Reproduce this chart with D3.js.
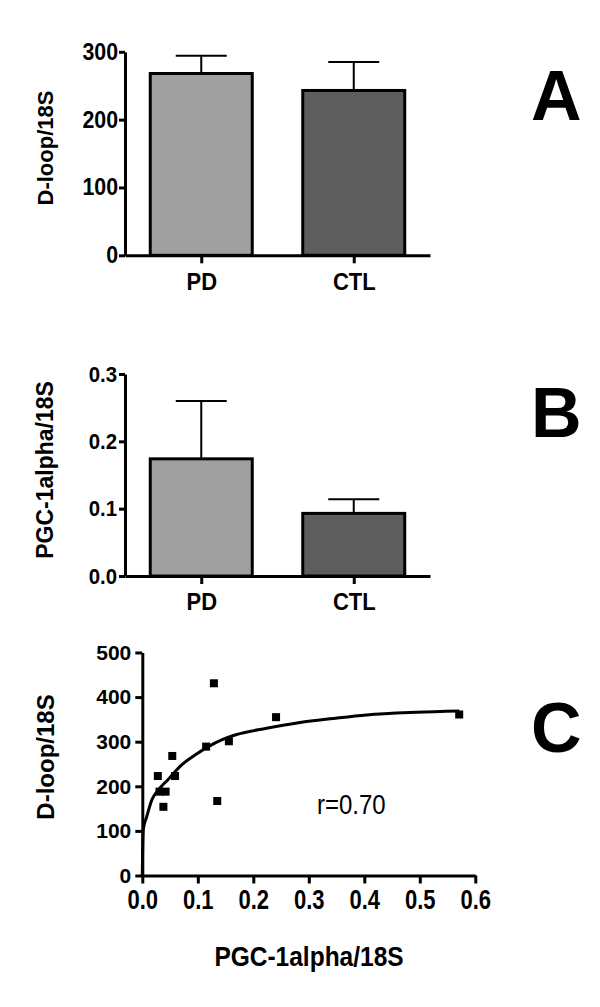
<!DOCTYPE html>
<html>
<head>
<meta charset="utf-8">
<script src="https://cdn.jsdelivr.net/npm/d3@7"></script>
<style>
  html, body { margin: 0; padding: 0; background: #fff; }
  svg { display: block; }
  text { font-family: "Liberation Sans", Arial, Helvetica, sans-serif; fill: #000; }
</style>
</head>
<body>
<svg id="chart" width="600" height="1007"></svg>
<script>
// ---------------- data ----------------
const barCategories = ["PD", "CTL"];
const dloopMeans = [268, 243];
const dloopErrors = [26, 42];
const pgcMeans = [0.174, 0.093];
const pgcErrors = [0.086, 0.021];
const barColors = ["#a0a0a0", "#5e5e5e"];

const dloopTicks = [0, 100, 200, 300];
const pgcTicks = [0, 0.1, 0.2, 0.3];

const scatterPGC = [0.028, 0.031, 0.042, 0.038, 0.054, 0.059, 0.115, 0.129, 0.135, 0.156, 0.241, 0.571];
const scatterDloop = [223, 188, 188, 154, 268, 223, 289, 431, 167, 301, 355, 361];

const fitPGC = [0, 0.0005, 0.002, 0.008, 0.017, 0.029, 0.047, 0.071, 0.095, 0.119, 0.143, 0.167, 0.224, 0.284, 0.344, 0.404, 0.494, 0.571];
const fitDloop = [0, 50, 105, 132, 169, 192, 216, 248, 270, 289, 304, 315, 330, 343, 352, 360, 366, 369];

const scatterXTicks = [0, 0.1, 0.2, 0.3, 0.4, 0.5, 0.6];
const scatterYTicks = [0, 100, 200, 300, 400, 500];
const corrLabel = "r=0.70";

// ---------------- helpers ----------------
const svg = d3.select("#chart");

function stretch(sel, sx, sy) {
  sel.each(function () {
    const t = d3.select(this);
    const x = +t.attr("x") || 0, y = +t.attr("y") || 0;
    t.attr("x", x / sx).attr("y", y / sy).attr("transform", `scale(${sx},${sy})`);
  });
}

function styleAxis(g, fontSize, sx, sy) {
  g.select(".domain").attr("stroke", "#000").attr("stroke-width", 3);
  g.selectAll(".tick line").attr("stroke", "#000").attr("stroke-width", 3);
  g.selectAll(".tick text")
    .attr("font-size", fontSize)
    .attr("font-weight", "bold")
    .attr("font-family", "'Liberation Sans', Arial, sans-serif")
    .attr("fill", "#000");
  stretch(g.selectAll(".tick text"), sx, sy);
}

function barPanel(opts) {
  const x = d3.scalePoint().domain(barCategories).range([125, 430]).padding(0.5);
  const y = d3.scaleLinear().domain(opts.domain).range(opts.range);
  const g = svg.append("g");
  const barW = 102;
  const capW = 51;

  // error bars (drawn first, behind bars)
  opts.means.forEach((m, i) => {
    const cx = x(barCategories[i]);
    g.append("line")
      .attr("x1", cx).attr("x2", cx)
      .attr("y1", y(m)).attr("y2", y(m + opts.errors[i]))
      .attr("stroke", "#000").attr("stroke-width", 2);
    g.append("line")
      .attr("x1", cx - capW / 2).attr("x2", cx + capW / 2)
      .attr("y1", y(m + opts.errors[i])).attr("y2", y(m + opts.errors[i]))
      .attr("stroke", "#000").attr("stroke-width", 2);
  });

  g.selectAll("rect.bar")
    .data(opts.means)
    .join("rect")
    .attr("class", "bar")
    .attr("x", (d, i) => x(barCategories[i]) - barW / 2)
    .attr("width", barW)
    .attr("y", d => y(d))
    .attr("height", d => y(0) - y(d))
    .attr("fill", (d, i) => barColors[i])
    .attr("stroke", "#000")
    .attr("stroke-width", 3);

  const ya = g.append("g")
    .attr("transform", `translate(125,0)`)
    .call(d3.axisLeft(y).tickValues(opts.ticks).tickSize(6).tickSizeOuter(0)
      .tickPadding(opts.tickPad).tickFormat(opts.fmt));
  styleAxis(ya, opts.tickFont, 0.97, 1.05);

  const xa = g.append("g")
    .attr("transform", `translate(0,${y(0)})`)
    .call(d3.axisBottom(x).tickSize(8).tickSizeOuter(0).tickPadding(9));
  styleAxis(xa, 22, 1, 1.12);

  g.append("text")
    .attr("transform", `translate(${opts.titleX},${opts.titleY}) rotate(-90)`)
    .attr("text-anchor", "middle")
    .attr("font-size", opts.titleFont)
    .attr("font-weight", "bold")
    .text(opts.title);

  g.append("text")
    .attr("x", 531).attr("y", opts.letterY)
    .attr("font-size", 70)
    .attr("font-weight", "bold")
    .text(opts.letter);
}

// ---------------- Panel A ----------------
barPanel({
  means: dloopMeans, errors: dloopErrors,
  domain: [0, 300], range: [255.3, 51.8],
  ticks: dloopTicks, fmt: d3.format("d"), tickPad: 1, tickFont: 22,
  title: "D-loop/18S", titleX: 53, titleY: 148, titleFont: 22,
  letter: "A", letterY: 120
});

// ---------------- Panel B ----------------
barPanel({
  means: pgcMeans, errors: pgcErrors,
  domain: [0, 0.3], range: [576, 374],
  ticks: pgcTicks, fmt: d3.format(".1f"), tickPad: 2, tickFont: 21,
  title: "PGC-1alpha/18S", titleX: 53, titleY: 470, titleFont: 23,
  letter: "B", letterY: 437
});

// ---------------- Panel C ----------------
(function () {
  const x = d3.scaleLinear().domain([0, 0.6]).range([142.3, 475.3]);
  const y = d3.scaleLinear().domain([0, 500]).range([875.5, 652.5]);
  const g = svg.append("g");

  const line = d3.line()
    .x(d => x(d[0]))
    .y(d => y(d[1]))
    .curve(d3.curveMonotoneX);
  g.append("path")
    .datum(fitPGC.map((v, i) => [v, fitDloop[i]]))
    .attr("d", line)
    .attr("fill", "none")
    .attr("stroke", "#000")
    .attr("stroke-width", 3);

  const s = 8;
  g.selectAll("rect.pt")
    .data(scatterPGC.map((v, i) => [v, scatterDloop[i]]))
    .join("rect")
    .attr("class", "pt")
    .attr("x", d => x(d[0]) - s / 2)
    .attr("y", d => y(d[1]) - s / 2)
    .attr("width", s).attr("height", s)
    .attr("fill", "#000");

  const ya = g.append("g")
    .attr("transform", `translate(${x(0)},0)`)
    .call(d3.axisLeft(y).tickValues(scatterYTicks).tickSize(7).tickSizeOuter(0)
      .tickPadding(4).tickFormat(d3.format("d")));
  styleAxis(ya, 21, 1, 1);

  const xa = g.append("g")
    .attr("transform", `translate(0,${y(0)})`)
    .call(d3.axisBottom(x).tickValues(scatterXTicks).tickSize(8).tickSizeOuter(0)
      .tickPadding(6).tickFormat(d3.format(".1f")));
  styleAxis(xa, 22, 1, 1.25);

  g.append("text")
    .attr("transform", `translate(54,757) rotate(-90)`)
    .attr("text-anchor", "middle")
    .attr("font-size", 24)
    .attr("font-weight", "bold")
    .text("D-loop/18S");

  const xt = g.append("text")
    .attr("x", 309).attr("y", 966)
    .attr("text-anchor", "middle")
    .attr("font-size", 24.5)
    .attr("font-weight", "bold")
    .text("PGC-1alpha/18S");
  stretch(xt, 1, 1.14);

  const rt = g.append("text")
    .attr("x", 317).attr("y", 814)
    .attr("font-size", 24)
    .text(corrLabel);
  stretch(rt, 1, 1.12);

  g.append("text")
    .attr("x", 531).attr("y", 752)
    .attr("font-size", 70)
    .attr("font-weight", "bold")
    .text("C");
})();
</script>
</body>
</html>
